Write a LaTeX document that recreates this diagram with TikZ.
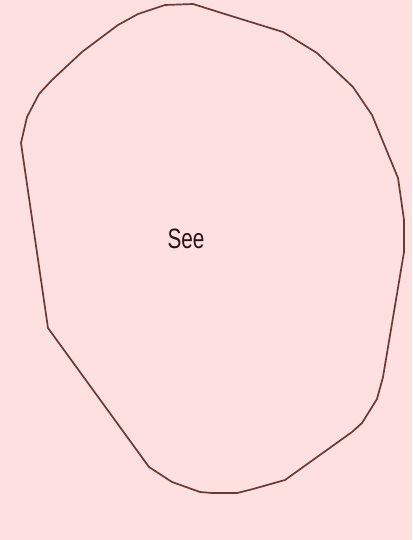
\documentclass[tikz,border=0pt]{standalone}
\usepackage{fontspec}
\setmainfont{Liberation Sans}
\usetikzlibrary{positioning}
\definecolor{blushbg}{HTML}{FFE0E0}
\definecolor{outline}{HTML}{6B3A35}
\definecolor{labelink}{HTML}{2A1214}
\tikzset{
  blobline/.style={draw=outline,line width=1.7pt,line join=round},
  blobtext/.style={text=labelink,inner sep=0pt,xscale=0.74,
                   font=\fontsize{28}{30}\selectfont}
}

\begin{document}
\begin{tikzpicture}[x=1pt,y=-1pt]
  \fill[blushbg] (0,0) rectangle (412,540);
  \useasboundingbox (0,0) rectangle (412,540);

  % outline of the region
  \draw[blobline] (165,5) -- (193,4) -- (228,15) -- (283,32) -- (317,53)
    -- (353,87) -- (372,115) -- (398,178) -- (404,220) -- (404,252)
    -- (383,377) -- (377,399) -- (362,423) -- (352,432) -- (285,480)
    -- (253,489) -- (237,493) -- (212,493) -- (200,492) -- (172,482)
    -- (149,467) -- (48,328) -- (21,143) -- (27,117) -- (39,94)
    -- (52,80) -- (82,52) -- (118,25) -- (138,14) -- cycle;

  \node[blobtext] (see) at (186,239) {See};
\end{tikzpicture}
\end{document}
